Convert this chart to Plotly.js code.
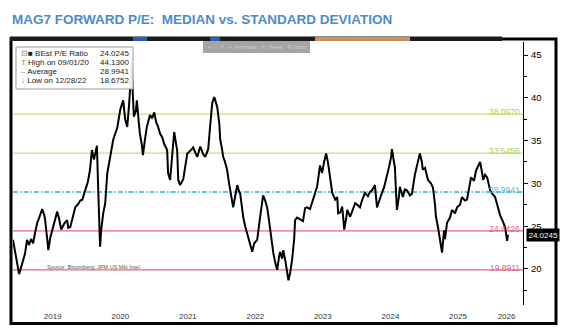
<!DOCTYPE html>
<html>
<head>
<meta charset="utf-8">
<script src="https://cdn.plot.ly/plotly-3.0.1.min.js"></script>
<style>
html,body{margin:0;padding:0;background:#fff;}
#chart{width:581px;height:336px;}
</style>
</head>
<body>
<div id="chart"></div>
<script>
// ---- data ----
const dates = [
"2018-11-29","2018-12-10","2018-12-21","2019-01-01","2019-01-12","2019-01-23","2019-02-02","2019-02-13","2019-02-24","2019-03-07",
"2019-03-18","2019-03-29","2019-04-09","2019-04-20","2019-05-06","2019-05-17","2019-05-22","2019-06-02","2019-06-08","2019-06-18",
"2019-06-29","2019-07-10","2019-07-26","2019-08-06","2019-08-17","2019-08-22","2019-09-02","2019-09-18","2019-09-24","2019-10-05",
"2019-10-16","2019-11-01","2019-11-17","2019-11-28","2019-12-09","2019-12-25","2020-01-08","2020-01-19","2020-01-30","2020-02-10",
"2020-02-26","2020-03-03","2020-03-09","2020-03-14","2020-03-20","2020-03-31","2020-04-11","2020-04-22","2020-05-03","2020-05-13",
"2020-05-24","2020-06-04","2020-06-15","2020-07-01","2020-07-17","2020-07-28","2020-08-08","2020-08-19","2020-08-27","2020-09-01",
"2020-09-07","2020-09-13","2020-09-24","2020-09-29","2020-10-10","2020-10-15","2020-10-26","2020-11-01","2020-11-11","2020-11-22",
"2020-12-09","2020-12-20","2021-01-01","2021-01-11","2021-01-22","2021-02-02","2021-02-13","2021-02-24","2021-03-12","2021-03-17",
"2021-03-28","2021-04-08","2021-04-19","2021-04-30","2021-05-05","2021-05-11","2021-05-21","2021-06-07","2021-06-18","2021-06-29",
"2021-07-15","2021-07-31","2021-08-11","2021-08-22","2021-09-07","2021-09-23","2021-10-04","2021-10-20","2021-10-31","2021-11-11",
"2021-11-22","2021-11-27","2021-12-08","2021-12-19","2021-12-24","2022-01-03","2022-01-09","2022-01-19","2022-01-30","2022-02-10",
"2022-02-21","2022-03-04","2022-03-15","2022-03-26","2022-04-06","2022-04-11","2022-04-22","2022-04-27","2022-05-08","2022-05-24",
"2022-06-04","2022-06-15","2022-06-26","2022-07-12","2022-07-28","2022-08-13","2022-08-24","2022-09-04","2022-09-15","2022-09-20",
"2022-10-01","2022-10-07","2022-10-17","2022-10-28","2022-11-08","2022-11-13","2022-11-24","2022-11-30","2022-12-11","2022-12-28",
"2023-01-06","2023-01-17","2023-01-28","2023-02-02","2023-02-13","2023-03-01","2023-03-17","2023-03-28","2023-04-08","2023-04-24",
"2023-05-10","2023-06-01","2023-06-17","2023-06-28","2023-07-09","2023-07-20","2023-07-31","2023-08-11","2023-08-22","2023-09-07",
"2023-09-18","2023-09-23","2023-10-04","2023-10-15","2023-10-26","2023-11-06","2023-11-11","2023-11-27","2023-12-08","2023-12-24",
"2024-01-04","2024-01-19","2024-01-30","2024-02-15","2024-03-02","2024-03-13","2024-03-24","2024-04-09","2024-04-20","2024-05-01",
"2024-05-17","2024-05-28","2024-06-08","2024-06-24","2024-07-05","2024-07-10","2024-07-21","2024-07-26","2024-08-01","2024-08-06",
"2024-08-17","2024-08-22","2024-09-07","2024-09-18","2024-09-29","2024-10-15","2024-10-26","2024-11-11","2024-11-27","2024-12-08",
"2024-12-19","2024-12-24","2025-01-05","2025-01-21","2025-02-06","2025-02-17","2025-02-28","2025-03-05","2025-03-16","2025-03-27",
"2025-04-07","2025-04-18","2025-04-23","2025-05-04","2025-05-20","2025-05-31","2025-06-16","2025-06-27","2025-07-13","2025-07-24",
"2025-08-09","2025-08-20","2025-08-31","2025-09-11","2025-09-27","2025-10-08","2025-10-19","2025-10-30","2025-11-10","2025-11-15",
"2025-11-26","2025-12-07","2025-12-23","2026-01-03","2026-01-19","2026-02-04","2026-02-15","2026-03-03","2026-03-14","2026-03-25",
"2026-03-30"
];
const peRatio = [
23.4,22.0,20.5,19.4,20.2,21.1,21.8,23.4,22.8,23.5,
23.0,24.3,25.4,26.0,27.0,26.3,25.7,23.5,22.2,23.6,
24.6,25.3,26.7,25.8,24.6,24.8,25.3,25.7,24.8,24.9,
25.8,27.2,27.6,28.0,28.1,29.2,30.2,31.5,33.9,32.8,
34.4,30.0,26.0,22.6,24.5,26.5,27.7,31.2,32.5,33.8,
35.1,35.8,36.5,38.6,39.7,37.5,36.6,39.5,42.0,44.13,
40.5,37.8,38.5,39.7,37.0,35.9,34.5,33.3,35.0,36.6,
38.0,37.6,38.3,37.2,36.6,35.8,35.4,34.6,33.9,31.2,
30.4,33.5,36.0,34.5,33.9,30.4,29.8,30.5,32.0,33.5,
33.8,34.2,33.6,33.1,34.3,33.4,33.1,34.0,36.8,39.4,
40.1,39.6,38.9,37.0,35.1,34.0,33.1,32.5,31.6,30.0,
28.5,27.2,28.5,29.8,29.0,28.8,27.0,26.1,25.0,23.7,
23.0,22.0,23.0,23.4,26.1,28.6,28.0,27.2,25.5,24.6,
23.0,21.9,20.8,19.9,21.5,22.0,21.2,22.2,21.0,18.68,
19.5,21.1,23.5,25.7,26.0,25.8,25.6,27.1,27.2,27.0,
28.0,29.6,32.1,31.2,32.5,33.5,32.3,30.8,28.9,28.1,
28.4,26.5,26.6,27.3,24.6,26.0,26.9,26.1,26.8,27.7,
27.5,27.2,28.0,28.9,28.5,29.0,29.2,29.8,27.2,28.0,
28.9,29.5,30.4,31.9,33.0,34.0,32.5,31.9,29.0,26.9,
28.5,29.6,28.4,29.3,29.2,28.6,28.8,31.0,32.5,33.5,
32.5,31.6,31.8,30.4,30.0,29.5,27.5,26.1,24.9,23.5,
21.9,24.5,23.5,25.4,26.0,26.9,26.5,27.2,27.5,28.4,
28.0,28.1,29.5,30.7,30.3,31.5,32.0,32.5,31.2,30.4,
31.0,30.7,29.2,28.8,28.4,27.0,26.3,25.5,24.9,23.3,
24.0245
];
const levelValues = [38.0970, 33.5456, 28.9941, 24.4426, 19.8911];
const levelLabels = ["38.0970", "33.5456", "28.9941", "24.4426", "19.8911"];
const yTickVals = [20, 25, 30, 35, 40, 45];
const yMinorVals = [17.5, 22.5, 27.5, 32.5, 37.5, 42.5];
const xTickVals = ["2019-07-02","2020-07-02","2021-07-02","2022-07-02","2023-07-02","2024-07-02","2025-07-02","2026-03-22"];
const xTickText = ["2019","2020","2021","2022","2023","2024","2025","2026"];
const legendNames = ["BEst P/E Ratio", "High on 09/01/20", "Average", "Low on 12/28/22"];
const legendValues = ["24.0245", "44.1300", "28.9941", "18.6752"];
const lastValue = 24.0245;
const lastLabel = "24.0245";

// ---- styles / geometry ----
const W = 581, H = 336;
const M = {l: 13, r: 58, t: 42, b: 31};
const PW = W - M.l - M.r, PH = H - M.t - M.b;
const px = x => (x - M.l) / PW;
const py = y => (H - M.b - y) / PH;
const FONT = "Liberation Sans, Arial, sans-serif";

const levelColors = ["#c9e070", "#c9e070", "#2fb0d4", "#e5687f", "#e5687f"];
const levelText = ["#abd05a", "#abd05a", "#4bbde0", "#dc5f7c", "#dc5f7c"];
const levelDash = ["solid", "solid", "5px,2px,1.5px,2px", "solid", "solid"];

const shapes = [];
const annotations = [];

levelValues.forEach((v, i) => {
  shapes.push({type: "line", xref: "paper", yref: "y", x0: 0, x1: 1, y0: v, y1: v,
    line: {color: levelColors[i], width: 1.3, dash: levelDash[i]}, layer: "below"});
  annotations.push({xref: "paper", yref: "y", x: 1, y: v, xanchor: "right", yanchor: "middle",
    xshift: -1, yshift: 2, text: levelLabels[i], showarrow: false,
    font: {family: FONT, size: 8.5, color: levelText[i]}});
});

// frame
shapes.push({type: "rect", xref: "paper", yref: "paper", x0: px(11), x1: px(556), y0: py(323.5), y1: py(39),
  line: {color: "#000", width: 3}, fillcolor: "rgba(0,0,0,0)"});
// top dark bar (toolbar remnants)
shapes.push({type: "rect", xref: "paper", yref: "paper", x0: px(10), x1: px(502), y0: py(41), y1: py(36.5),
  line: {width: 0}, fillcolor: "#1b1b1b"});
shapes.push({type: "rect", xref: "paper", yref: "paper", x0: px(133), x1: px(147), y0: py(41), y1: py(37),
  line: {width: 0}, fillcolor: "#2a5fb0"});
shapes.push({type: "rect", xref: "paper", yref: "paper", x0: px(210), x1: px(220), y0: py(41), y1: py(37),
  line: {width: 0}, fillcolor: "#2a5fb0"});
shapes.push({type: "rect", xref: "paper", yref: "paper", x0: px(315), x1: px(410), y0: py(41), y1: py(37),
  line: {width: 0}, fillcolor: "#c8945a"});
// gray floating toolbar
shapes.push({type: "rect", xref: "paper", yref: "paper", x0: px(203), x1: px(310), y0: py(53), y1: py(41),
  line: {width: 0}, fillcolor: "#a4a4a4"});
annotations.push({xref: "paper", yref: "paper", x: px(206), y: py(47), xanchor: "left", yanchor: "middle",
  text: "⇠ ↑ ↗   ✓ Annotate   ▭ News   ⚲ Zoom", showarrow: false,
  font: {family: FONT, size: 5.5, color: "#cfcfcf"}});

// legend box
shapes.push({type: "rect", xref: "paper", yref: "paper", x0: px(16), x1: px(133), y0: py(89), y1: py(47),
  line: {color: "#9a9a9a", width: 1}, fillcolor: "rgba(255,255,255,0.92)"});
const legendSym = ["<span style='color:#888'>⊟</span>■", "<span style='color:#888'>T</span>", "<span style='color:#888'>–</span>", "<span style='color:#888'>↓</span>"];
legendNames.forEach((n, i) => {
  const yy = 53 + i * 9.3;
  annotations.push({xref: "paper", yref: "paper", x: px(19), y: py(yy), xanchor: "left", yanchor: "middle",
    text: legendSym[i] + " " + n, showarrow: false,
    font: {family: FONT, size: 8, color: "#222"}});
  annotations.push({xref: "paper", yref: "paper", x: px(131), y: py(yy), xanchor: "right", yanchor: "middle",
    text: legendValues[i], showarrow: false,
    font: {family: FONT, size: 8, color: "#222"}});
});

// source
annotations.push({xref: "paper", yref: "paper", x: px(45), y: py(267), xanchor: "left", yanchor: "middle",
  text: "Source: Bloomberg; JPM US Mkt Intel.", showarrow: false,
  font: {family: FONT, size: 5.5, color: "#555"}});

// last value tag
annotations.push({xref: "paper", yref: "y", x: 1, y: lastValue, xanchor: "left", yanchor: "middle",
  xshift: 3, text: lastLabel, showarrow: false, bgcolor: "#000", borderpad: 1.5,
  font: {family: FONT, size: 8, color: "#fff"}});

// title
annotations.push({xref: "paper", yref: "paper", x: px(10), y: py(19), xanchor: "left", yanchor: "middle",
  text: "<b>MAG7 FORWARD P/E:  MEDIAN vs. STANDARD DEVIATION</b>", showarrow: false,
  font: {family: FONT, size: 13.5, color: "#4d8bc8"}});

const trace = {
  type: "scatter", mode: "lines", x: dates, y: peRatio,
  line: {color: "#000", width: 2}, hoverinfo: "skip"
};

const layout = {
  width: W, height: H,
  margin: {l: M.l, r: M.r, t: M.t, b: M.b, pad: 0},
  paper_bgcolor: "#fff", plot_bgcolor: "#fff",
  showlegend: false,
  xaxis: {type: "date", range: ["2018-11-29", "2026-06-19"], tickvals: xTickVals, ticktext: xTickText,
    ticks: "", showgrid: false, zeroline: false, showline: false, ticklabelstandoff: 5,
    tickfont: {family: FONT, size: 8, color: "#333"}, fixedrange: true},
  yaxis: {side: "right", range: [15.79, 46.52], tickvals: yTickVals, ticks: "outside", ticklen: 4,
    tickcolor: "#000", tickwidth: 1, showline: true, linecolor: "#000", linewidth: 1,
    showgrid: false, zeroline: false, ticklabelstandoff: 1,
    minor: {tickvals: yMinorVals, ticks: "outside", ticklen: 2.5, tickcolor: "#000", showgrid: false},
    tickfont: {family: FONT, size: 9.5, color: "#000"}, fixedrange: true},
  shapes: shapes,
  annotations: annotations
};

Plotly.newPlot("chart", [trace], layout, {displayModeBar: false, staticPlot: true});
</script>
</body>
</html>
